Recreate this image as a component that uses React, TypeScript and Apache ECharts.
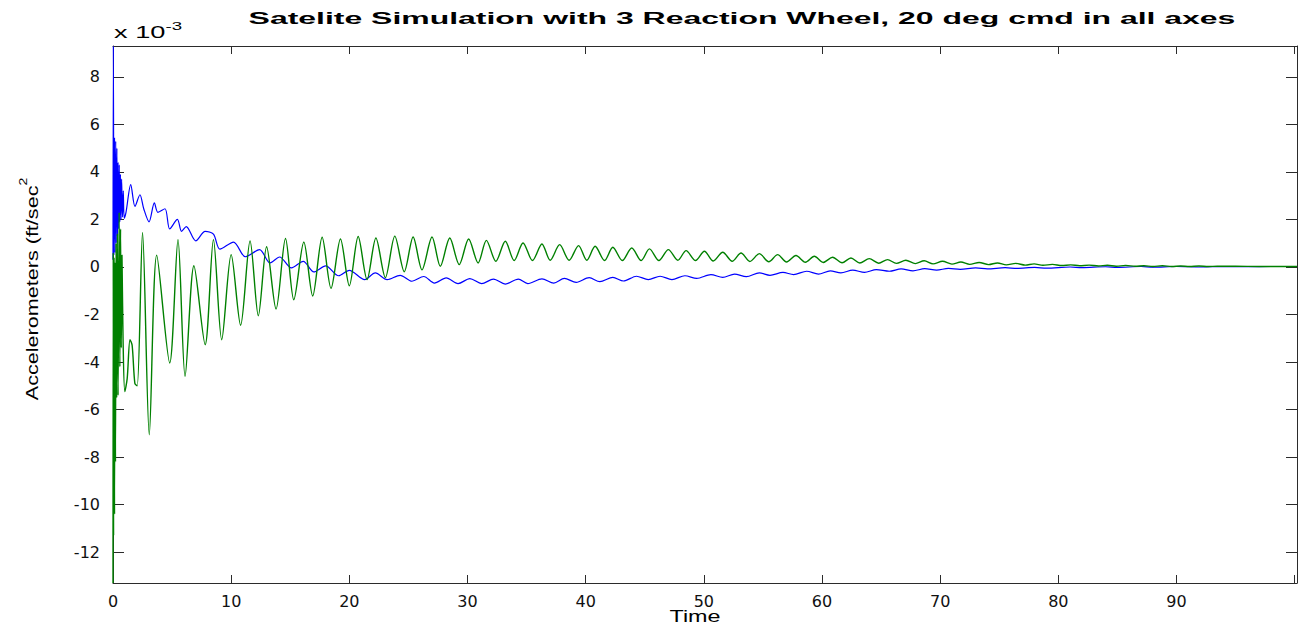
import React, { useEffect, useRef } from 'react';
import * as echarts from 'echarts';

const TITLE = 'Satelite Simulation with 3 Reaction Wheel, 20 deg cmd in all axes';
const X_NAME = 'Time';
const Y_NAME = 'Accelerometers (ft/sec';
const Y_SUP = '2';
const SCALE_BASE = 'x 10';
const SCALE_EXP = '-3';

const X_MIN = 0;
const X_MAX = 100.2;
const Y_MIN = -13.3;
const Y_MAX = 9.3;

// values in units of 1e-3 ft/sec^2, [time, accel]
const blueSeries: [number, number][] = [
  [0, 0.3], [0.03, 9.3], [0.08, 0.5], [0.13, 5.45], [0.18, 0.6], [0.23, 5.3], [0.28, 1.0], [0.33, 5.0],
  [0.38, 1.3], [0.43, 4.4], [0.48, 1.6], [0.53, 4.3], [0.58, 1.9], [0.63, 3.9], [0.68, 2.0], [0.73, 3.7],
  [0.8, 2.1], [0.87, 3.2], [0.95, 2.05], [1.1, 2.3], [1.5, 3.47], [1.86, 2.55], [2.28, 3.04], [2.6, 2.45],
  [3.05, 1.9], [3.5, 2.7], [3.8, 2.3], [4.4, 2.45], [4.8, 1.6], [5.45, 2.0], [5.8, 1.5], [6.2, 1.7],
  [7.0, 1.1], [7.8, 1.5], [8.5, 1.38], [9.05, 0.75], [10.2, 1.05], [11.2, 0.43], [12.4, 0.73], [13.3, 0.17],
  [14.1, 0.42], [15.1, -0.04], [16.1, 0.24], [17.0, -0.21], [18.0, 0.05], [19.1, -0.37], [20.0, -0.14],
  [21.3, -0.53], [22.2, -0.25], [23.2, -0.53], [24.3, -0.35], [25.3, -0.6], [26.3, -0.4], [27.2, -0.68],
  [28.2, -0.46], [29.2, -0.7], [30.2, -0.49], [31.2, -0.7], [32.2, -0.51], [33.2, -0.72], [34.3, -0.51],
  [35.1, -0.7], [36.3, -0.5], [37.3, -0.68], [38.2, -0.48], [39.2, -0.65], [40.3, -0.45], [41.2, -0.62],
  [42.3, -0.44], [43.2, -0.59], [44.3, -0.39], [45.3, -0.53], [46.3, -0.39], [47.3, -0.53], [48.4, -0.37],
  [49.4, -0.48], [50.6, -0.32], [51.6, -0.44], [52.6, -0.3], [53.6, -0.41], [54.7, -0.25], [55.6, -0.35],
  [56.7, -0.23], [57.6, -0.32], [58.7, -0.18], [59.7, -0.3], [60.7, -0.16], [61.6, -0.25], [62.6, -0.13],
  [63.6, -0.23], [64.6, -0.11], [65.7, -0.18], [66.7, -0.08], [67.7, -0.16], [68.7, -0.07], [69.7, -0.13],
  [70.7, -0.06], [71.7, -0.1], [73.0, -0.04], [74.0, -0.08], [75.5, -0.03], [76.5, -0.06], [78.0, -0.02],
  [79.0, -0.05], [81.0, 0.0], [82.0, -0.03], [84.0, 0.01], [85.0, -0.02], [87.0, 0.02], [88.0, -0.01],
  [90.0, 0.02], [92.0, 0.0], [94.0, 0.02], [96.0, 0.01], [98.0, 0.02], [100.2, 0.02],
];

const greenSeries: [number, number][] = [
  [0, -13.3], [0.02, 0.6], [0.05, -11.3], [0.09, 0.4], [0.13, -10.4], [0.17, 0.2], [0.21, -8.2], [0.26, 1.0],
  [0.31, -5.5], [0.37, 1.4], [0.43, -5.4], [0.52, 2.3], [0.58, -4.2], [0.64, 1.6], [0.7, -3.4], [0.76, 0.5],
  [0.85, -3.0], [1.0, -5.24], [1.2, -4.7], [1.44, -3.06], [1.62, -3.3], [1.85, -4.9], [2.05, -5.0],
  [2.5, 1.45], [3.07, -7.06], [3.7, 0.5], [4.8, -4.04], [5.5, 1.15], [6.1, -4.6], [6.85, 0.05], [7.8, -3.27],
  [8.5, 1.15], [9.2, -3.06], [10.0, 0.52], [10.8, -2.45], [11.6, 1.1], [12.3, -2.05], [13.0, 0.85],
  [13.8, -1.77], [14.6, 1.2], [15.3, -1.38], [16.15, 1.05], [16.9, -1.22], [17.7, 1.25], [18.45, -0.9],
  [19.25, 1.18], [20.0, -0.79], [20.75, 1.28], [21.5, -0.53], [22.25, 1.22], [23.05, -0.45], [23.85, 1.3],
  [24.65, -0.2], [25.4, 1.26], [26.15, -0.12], [27.0, 1.26], [27.7, 0.03], [28.5, 1.22], [29.3, 0.1],
  [30.1, 1.18], [30.9, 0.17], [31.6, 1.12], [32.4, 0.24], [33.2, 1.08], [33.95, 0.27], [34.7, 1.01],
  [35.5, 0.27], [36.3, 0.97], [37.0, 0.28], [37.8, 0.94], [38.6, 0.28], [39.4, 0.9], [40.1, 0.28],
  [40.8, 0.87], [41.6, 0.27], [42.3, 0.83], [43.1, 0.27], [43.9, 0.8], [44.7, 0.27], [45.4, 0.76],
  [46.2, 0.27], [47.0, 0.73], [47.8, 0.28], [48.5, 0.69], [49.3, 0.27], [50.05, 0.66], [50.8, 0.25],
  [51.6, 0.62], [52.4, 0.24], [53.15, 0.59], [53.9, 0.23], [54.7, 0.56], [55.5, 0.22], [56.25, 0.52],
  [57.0, 0.21], [57.8, 0.48], [58.6, 0.2], [59.35, 0.45], [60.1, 0.19], [60.9, 0.41], [61.7, 0.18],
  [62.45, 0.38], [63.2, 0.17], [64.0, 0.35], [64.8, 0.16], [65.55, 0.31], [66.3, 0.15], [67.1, 0.28],
  [67.9, 0.14], [68.65, 0.26], [69.4, 0.13], [70.2, 0.24], [71.0, 0.12], [71.75, 0.21], [72.5, 0.11],
  [73.3, 0.19], [74.1, 0.1], [74.85, 0.17], [75.6, 0.09], [76.4, 0.15], [77.2, 0.08], [77.95, 0.13],
  [78.7, 0.07], [79.5, 0.11], [80.3, 0.06], [81.05, 0.09], [81.8, 0.05], [82.6, 0.08], [83.4, 0.04],
  [84.15, 0.07], [84.9, 0.03], [85.7, 0.06], [86.5, 0.03], [87.25, 0.05], [88.0, 0.02], [88.8, 0.05],
  [89.6, 0.02], [90.35, 0.04], [91.1, 0.02], [91.9, 0.04], [92.7, 0.02], [93.45, 0.03], [95.0, 0.03],
  [97.0, 0.02], [100.2, 0.02],
];

const X_TICK_STEP = 10;
const Y_TICK_STEP = 2;

const AXIS_COLOR = '#2b2b2b';
const LABEL_FONT = '"DejaVu Sans", "Liberation Sans", sans-serif';
const TEXT_FONT = '"Liberation Sans", Arial, sans-serif';

export default function App() {
  const ref = useRef<HTMLDivElement>(null);

  useEffect(() => {
    if (!ref.current) return;
    const chart = echarts.init(ref.current, null, { renderer: 'svg' });

    const isMultiple = (v: number, step: number) => Math.abs(v / step - Math.round(v / step)) < 1e-6;

    const xBase = {
      type: 'value' as const,
      min: X_MIN,
      max: X_MAX,
      interval: X_TICK_STEP,
      splitLine: { show: false },
      axisLine: { show: true, onZero: false, lineStyle: { color: AXIS_COLOR, width: 1 } },
      axisTick: { show: true, inside: true, length: 8, lineStyle: { color: AXIS_COLOR } },
    };
    const yBase = {
      type: 'value' as const,
      min: Y_MIN,
      max: Y_MAX,
      splitNumber: 11,
      minInterval: Y_TICK_STEP,
      maxInterval: Y_TICK_STEP,
      splitLine: { show: false },
      axisLine: { show: true, onZero: false, lineStyle: { color: AXIS_COLOR, width: 1 } },
      axisTick: { show: true, inside: true, length: 11, lineStyle: { color: AXIS_COLOR } },
    };

    chart.setOption({
      animation: false,
      backgroundColor: '#ffffff',
      grid: { left: 113, right: 15, top: 46, bottom: 45, containLabel: false },
      xAxis: [
        {
          ...xBase,
          position: 'bottom',
          axisLabel: {
            show: true,
            margin: 10,
            color: '#111',
            fontSize: 16,
            fontFamily: LABEL_FONT,
            showMaxLabel: false,
            formatter: (v: number) => (isMultiple(v, X_TICK_STEP) && v < 95 ? String(v) : ''),
          },
        },
        { ...xBase, position: 'top', axisLabel: { show: false } },
      ],
      yAxis: [
        {
          ...yBase,
          position: 'left',
          axisLabel: {
            show: true,
            margin: 13,
            color: '#111',
            fontSize: 16,
            fontFamily: LABEL_FONT,
            showMinLabel: false,
            showMaxLabel: false,
            formatter: (v: number) => (isMultiple(v, Y_TICK_STEP) ? String(Math.round(v)) : ''),
          },
        },
        { ...yBase, position: 'right', axisLabel: { show: false } },
      ],
      graphic: [
        {
          type: 'text',
          x: 742,
          y: 18,
          scaleX: 1.88,
          style: {
            text: TITLE,
            font: `bold 17px ${TEXT_FONT}`,
            fill: '#000',
            align: 'center',
            textAlign: 'center',
            verticalAlign: 'middle',
            textVerticalAlign: 'middle',
          },
        },
        {
          type: 'text',
          x: 114,
          y: 31,
          scaleX: 1.7,
          style: {
            text: `{b|${SCALE_BASE}}{e|${SCALE_EXP}}`,
            fill: '#000',
            align: 'left',
            textAlign: 'left',
            verticalAlign: 'middle',
            textVerticalAlign: 'middle',
            rich: {
              b: { fontSize: 16, fontFamily: TEXT_FONT, lineHeight: 20, fill: '#000', verticalAlign: 'bottom' },
              e: { fontSize: 11, fontFamily: TEXT_FONT, lineHeight: 12, fill: '#000', verticalAlign: 'top' },
            },
          },
        },
        {
          type: 'text',
          x: 695,
          y: 616,
          scaleX: 1.46,
          style: {
            text: X_NAME,
            font: `16px ${TEXT_FONT}`,
            fill: '#000',
            align: 'center',
            textAlign: 'center',
            verticalAlign: 'middle',
            textVerticalAlign: 'middle',
          },
        },
        {
          type: 'text',
          x: 29,
          y: 289,
          rotation: Math.PI / 2,
          scaleX: 1.27,
          style: {
            text: `{a|${Y_NAME}}{s|${Y_SUP}}`,
            fill: '#000',
            align: 'center',
            textAlign: 'center',
            verticalAlign: 'middle',
            textVerticalAlign: 'middle',
            rich: {
              a: { fontSize: 17, fontFamily: TEXT_FONT, lineHeight: 22, fill: '#000', verticalAlign: 'bottom' },
              s: { fontSize: 11, fontFamily: TEXT_FONT, lineHeight: 12, fill: '#000', verticalAlign: 'top' },
            },
          },
        },
      ],
      series: [
        {
          type: 'line',
          name: 'Accel 1',
          xAxisIndex: 0,
          yAxisIndex: 0,
          data: blueSeries,
          showSymbol: false,
          smooth: 0.3,
          lineStyle: { color: '#0000ff', width: 1.2 },
          z: 2,
        },
        {
          type: 'line',
          name: 'Accel 2',
          xAxisIndex: 0,
          yAxisIndex: 0,
          data: greenSeries,
          showSymbol: false,
          smooth: 0.3,
          lineStyle: { color: '#008000', width: 1.4 },
          z: 3,
        },
      ],
    });

    return () => chart.dispose();
  }, []);

  return (
    <div
      ref={ref}
      style={{ position: 'fixed', left: 0, top: 0, width: 1312, height: 628, background: '#fff' }}
    />
  );
}
